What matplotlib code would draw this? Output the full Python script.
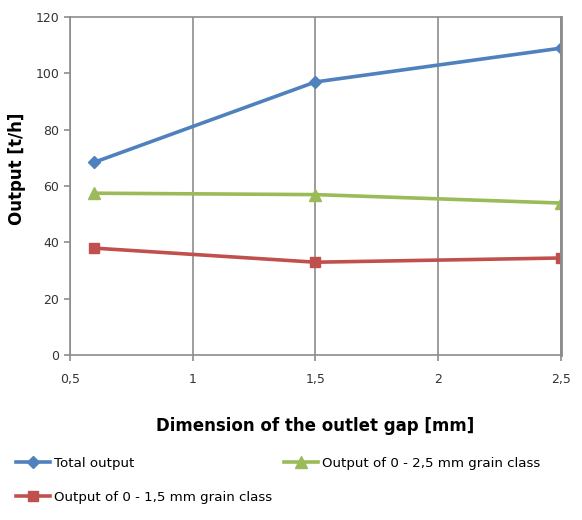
import matplotlib
matplotlib.use("Agg")
import matplotlib.pyplot as plt
from matplotlib.ticker import FixedLocator

x_gap = [0.6, 1.5, 2.5]
total_output = [68.5, 97, 109]
output_25 = [57.5, 57, 54]
output_15 = [38, 33, 34.5]
x_ticks = [0.5, 1, 1.5, 2, 2.5]
x_tick_labels = ["0,5", "1", "1,5", "2", "2,5"]
y_ticks = [0, 20, 40, 60, 80, 100, 120]

fig = plt.figure(figsize=(5.82, 5.20), dpi=100)
ax = fig.add_axes([0.120, 0.317, 0.844, 0.650])

l1, = ax.plot(x_gap, total_output, color="#4F81BD", lw=2.6, marker="D", ms=6, label="Total output")
l3, = ax.plot(x_gap, output_25, color="#9BBB59", lw=2.6, marker="^", ms=8, label="Output of 0 - 2,5 mm grain class")
l2, = ax.plot(x_gap, output_15, color="#C0504D", lw=2.6, marker="s", ms=7, label="Output of 0 - 1,5 mm grain class")

ax.set_xlim(0.5, 2.5)
ax.set_ylim(0, 120)
ax.xaxis.set_major_locator(FixedLocator(x_ticks))
ax.set_xticklabels(x_tick_labels)
ax.set_yticks(y_ticks)
ax.grid(axis="x", color="#8c8c8c", lw=1.2)
ax.set_axisbelow(True)
for s in ax.spines.values():
    s.set_color("#8c8c8c")
    s.set_linewidth(1.2)
ax.spines["right"].set_linewidth(2)
ax.tick_params(axis="both", colors="#8c8c8c", labelcolor="#333333", labelsize=9, length=4, width=1.2)
ax.tick_params(axis="x", pad=9)

ax.set_xlabel("Dimension of the outlet gap [mm]", fontsize=12, fontweight="bold", labelpad=22)
ax.set_ylabel("Output [t/h]", fontsize=12, fontweight="bold", labelpad=6)
ax.yaxis.set_label_coords(-0.09, 0.55)

leg_kw = dict(frameon=False, fontsize=9.6, handlelength=2.6, labelspacing=1.6,
              handletextpad=0.3, borderaxespad=0)
fig.legend(handles=[l1, l2], labels=[l1.get_label(), l2.get_label()],
           loc="upper left", bbox_to_anchor=(0.018, 0.132), **leg_kw)
fig.legend(handles=[l3], labels=[l3.get_label()],
           loc="upper left", bbox_to_anchor=(0.478, 0.132), **leg_kw)

fig.savefig("out.png", dpi=100)
